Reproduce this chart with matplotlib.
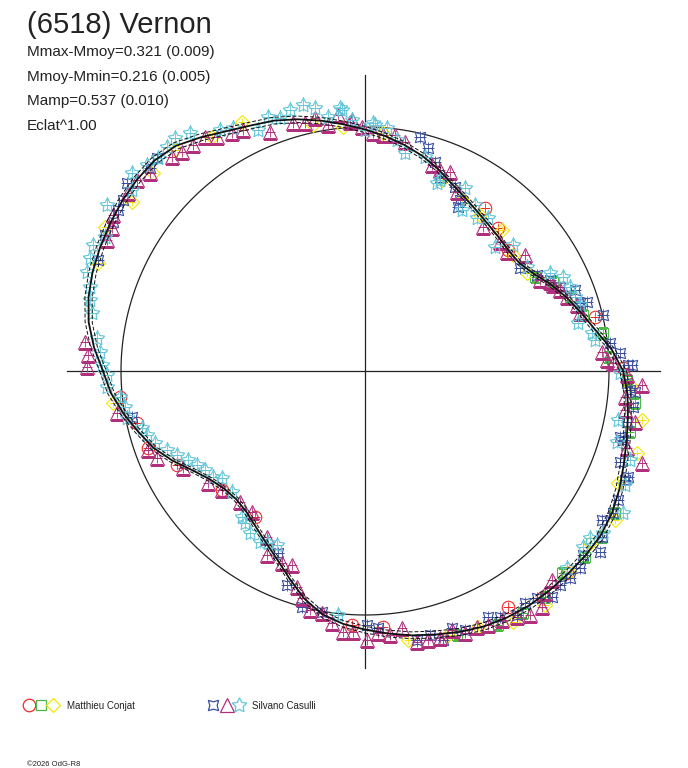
import numpy as np
import matplotlib.pyplot as plt

# fitted lightcurve: polar angle (deg) -> relative flux (1 = mean circle)
curve_angle = [-180, -175, -170, -165, -160, -155, -150, -145, -140, -135, -130, -125,
               -120, -115, -110, -105, -100, -95, -90, -85, -80, -75, -70, -65, -60,
               -55, -50, -45, -40, -35, -30, -25, -20, -15, -10, -5, 0, 5, 10, 15, 20,
               25, 30, 35, 40, 45, 50, 55, 60, 65, 70, 75, 80, 85, 90, 95, 100, 105,
               110, 115, 120, 125, 130, 135, 140, 145, 150, 155, 160, 165, 170, 175, 180]
curve_r = [1.074, 1.045, 1.005, 0.962, 0.922, 0.870, 0.815, 0.775, 0.752, 0.745, 0.755,
           0.780, 0.812, 0.852, 0.905, 0.965, 1.012, 1.040, 1.060, 1.080, 1.100, 1.118,
           1.138, 1.155, 1.166, 1.173, 1.175, 1.176, 1.178, 1.178, 1.168, 1.150, 1.128,
           1.110, 1.094, 1.080, 1.058, 1.015, 0.960, 0.918, 0.880, 0.840, 0.798, 0.772,
           0.768, 0.775, 0.785, 0.800, 0.820, 0.845, 0.880, 0.912, 0.940, 0.966, 0.990,
           1.015, 1.042, 1.068, 1.092, 1.110, 1.135, 1.170, 1.205, 1.220, 1.220, 1.215,
           1.207, 1.198, 1.188, 1.173, 1.150, 1.115, 1.074]

# Matthieu Conjat
conjat_circle_angle = [-173.9, -167.2, -160.5, -153.4, -140.2, -127.0, -92.9, -86.0,
                       -58.8, -51.8, -45.0, 53.6, 47.1, 40.2, 13.2, 0.7]
conjat_circle_r = [1.010, 0.958, 0.944, 0.861, 0.762, 0.749, 1.042, 1.052,
                   1.131, 1.179, 1.171, 0.830, 0.800, 0.768, 0.968, 1.057]

conjat_square_angle = [28.9, 25.3, 19.9, 14.4, 9.1, 3.3, -2.0, -6.8, -13.0, -29.6,
                       -35.0, -40.2, -45.7, -51.5, -56.9, -62.4, -70.8]
conjat_square_r = [0.796, 0.852, 0.893, 0.922, 0.988, 0.998, 1.074, 1.114, 1.114, 1.178,
                   1.186, 1.181, 1.156, 1.184, 1.184, 1.175, 1.146]

conjat_diamond_angle = [116.3, 123.2, 130.7, 137.0, 144.0, 151.0, 158.0, 101.9, 95.2,
                        85.7, 68.0, 60.4, 53.6, 45.8, 38.1, 31.2, -3.0, -10.0, -16.8,
                        -23.9, -30.8, -37.4, -44.4, -52.4, -59.5, -66.2, -72.5, -80.9,
                        -172.8]
conjat_diamond_r = [1.138, 1.146, 1.194, 1.189, 1.180, 1.218, 1.180, 1.030, 1.004,
                    0.978, 0.844, 0.806, 0.794, 0.806, 0.771, 0.776, 1.088, 1.153, 1.164,
                    1.134, 1.193, 1.161, 1.177, 1.210, 1.194, 1.147, 1.134, 1.116,
                    1.041]

# Silvano Casulli
casulli_cross_angle = [136.6, 141.7, 144.8, 146.9, 149.4, 152.4, 157.4, 134.3, -168.8,
                       -110.0, -104.9, -100.1, -115.5, -89.5, -87.1, -79.1, -76.2, -73.8,
                       -71.3, -68.9, -63.4, -61.2, -58.1, -55.4, -52.8, -50.4, -47.7,
                       -45.3, -42.5, -37.6, -35.0, -32.2, -29.8, -27.0, -22.7, -19.6,
                       1.3, -4.1, -11.0, -15.0, -22.0, -40.2, 33.6, 29.2, 26.2, 23.3,
                       21.1, 17.6, 17.3, 13.2, 6.5, 4.0, 1.3, -2.6, -4.4, -7.7, -14.5,
                       76.8, 74.2, 71.5, 68.8, 63.9, 60.9, 60.4]
casulli_cross_r = [1.212, 1.243, 1.214, 1.208, 1.200, 1.203, 1.185, 1.220, 0.973,
                   0.933, 1.001, 1.003, 0.827, 1.041, 1.055, 1.123, 1.114, 1.148,
                   1.112, 1.138, 1.127, 1.150, 1.178, 1.155, 1.167, 1.202, 1.187,
                   1.194, 1.195, 1.216, 1.186, 1.147, 1.171, 1.164, 1.155, 1.110,
                   1.078, 1.089, 1.094, 1.095, 1.162, 1.169, 0.763, 0.807, 0.845, 0.870,
                   0.922, 0.924, 0.953, 1.002, 1.011, 1.048, 1.095, 1.075, 1.110, 1.108,
                   1.080, 0.985, 0.950, 0.903, 0.849, 0.839, 0.802, 0.773]

casulli_triangle_angle = [106.2, 103.6, 101.2, 98.6, 96.0, 93.4, 88.1, 111.7, 116.8,
                          119.2, 122.3, 124.4, 127.3, 129.9, 132.0, 137.4, 140.0, 143.1,
                          148.2, 150.5, 153.1, 174.1, 176.7, 179.2, -170.4, -160.0,
                          -157.3, -152.0, -144.5, -140.2, -133.7, -128.7, -120.6, -118.0,
                          -113.4, -110.6, -107.5, -105.5, -103.0, -100.1, -97.5, -94.8,
                          -92.6, -89.6, -87.2, -84.6, -81.8, -79.1, -76.8, -74.3, -71.4,
                          -69.1, -66.4, -64.2, -61.2, -58.3, -55.9, -53.1, -51.0, -48.2,
                          -18.4, 1.8, -0.9, -2.9, -8.5, -10.7, -16.4, 43.7, 40.0, 35.9,
                          27.5, 25.7, 22.6, 20.1, 17.3, 15.1, 4.6, 2.6, -5.7, 93.0, 90.7,
                          85.6, 82.8, 80.1, 72.0, 69.5, 66.9, 62.8, 50.7, 24.6]
casulli_triangle_r = [1.058, 1.046, 1.057, 1.020, 1.055, 1.022, 0.976, 1.054, 1.107,
                      1.117, 1.135, 1.162, 1.164, 1.170, 1.181, 1.198, 1.219, 1.215,
                      1.215, 1.191, 1.186, 1.154, 1.137, 1.139, 1.031, 0.946,
                      0.924, 0.845, 0.790, 0.762, 0.742, 0.741, 0.790, 0.854,
                      0.857, 0.850, 0.928, 0.966, 1.005, 1.007, 1.042, 1.073,
                      1.071, 1.102, 1.075, 1.087, 1.064, 1.131, 1.132, 1.137, 1.120,
                      1.149, 1.145, 1.157, 1.165, 1.185, 1.207, 1.209, 1.171, 1.149,
                      1.196, 1.017, 1.074, 1.137, 1.077, 1.126, 1.119, 0.765, 0.759, 0.810,
                      0.808, 0.841, 0.865, 0.882, 0.910, 0.913, 0.975, 0.993, 1.071, 1.030, 1.000,
                      0.970, 0.975, 0.953, 0.888, 0.879, 0.887, 0.825, 0.763, 0.847]

casulli_star_angle = [103.1, 100.8, 95.4, 106.0, 108.6, 110.9, 118.5, 121.0, 126.3, 129.2,
                      131.5, 134.2, 136.6, 139.6, 142.2, 147.2, 152.7, 155.1, 157.7,
                      160.4, 163.0, 165.5, 168.0, 173.0, 175.9, 178.7, -179.1, -176.5,
                      88.2, 113.9, 93.0, 98.3, -173.9, -171.5, -168.8, -165.7, -163.6,
                      -161.1, -158.2, -155.9, -153.3, -150.8, -148.3, -145.1, -143.2,
                      -137.7, -130.1, -128.3, -125.4, -121.6, -119.4, -116.8, -96.3,
                      95.0, 90.0, 87.7, 84.8, 82.1, 79.6, 74.3, 69.0, 68.6, 61.3, 58.9,
                      56.5, 53.8, 51.2, 43.6, 40.4, 32.7, 27.9, 25.4, 22.3, 19.4, 17.1,
                      12.7, 9.5, 7.7, -0.4, -11.0, -15.7, -18.6, -23.7, -28.8, -34.2,
                      -36.6, -38.9, -44.3]
casulli_star_r = [1.119, 1.097, 1.083, 1.113, 1.094, 1.114, 1.133, 1.153, 1.211, 1.232,
                  1.225, 1.217, 1.229, 1.253, 1.209, 1.257, 1.199, 1.229, 1.218,
                  1.209, 1.178, 1.164, 1.144, 1.107, 1.089, 1.078, 1.057, 1.059,
                  1.017, 1.081, 1.030, 1.052, 1.010, 0.995, 0.994, 0.943, 0.931,
                  0.910, 0.874, 0.844, 0.812, 0.789, 0.771, 0.759, 0.732,
                  0.737, 0.782, 0.794, 0.814, 0.822, 0.809, 0.799, 1.006,
                  1.074, 0.988, 1.009, 1.000, 0.956, 0.908, 0.911, 0.825, 0.841, 0.855, 0.770,
                  0.816, 0.777, 0.805, 0.736, 0.797, 0.789, 0.858, 0.898, 0.908, 0.913, 0.922,
                  0.895, 0.943, 0.951, 1.045, 1.056, 1.073, 1.146, 1.163, 1.207, 1.180,
                  1.148, 1.148, 1.156]

RED, GREEN, YELLOW = '#ee2a2a', '#4cb848', '#f2e600'
BLUE, MAGENTA, CYAN = '#3a4fa0', '#b0307c', '#62c6d8'

series = [
    (conjat_circle_angle, conjat_circle_r, 'o', 9, RED),
    (conjat_square_angle, conjat_square_r, 's', 7.5, GREEN),
    (conjat_diamond_angle, conjat_diamond_r, 'D', 7, YELLOW),
    (casulli_cross_angle, casulli_cross_r, (4, 1, 45), 10.5, BLUE),
    (casulli_triangle_angle, casulli_triangle_r, '^', 9.5, MAGENTA),
    (casulli_star_angle, casulli_star_r, (5, 1, 0), 11, CYAN),
]

W, H = 688, 768
cx, cy, R = 365, 371, 244
rmax = 1.32

fig = plt.figure(figsize=(W / 100, H / 100), dpi=100)
ax = fig.add_axes([(cx - rmax * R) / W, (H - cy - rmax * R) / H,
                   2 * rmax * R / W, 2 * rmax * R / H], projection='polar')
ax.set_ylim(0, rmax)
ax.set_axis_off()

# axes cross and mean circle
for a, length in [(0, 1.209), (90, 1.213), (180, 1.221), (270, 1.217)]:
    ax.plot(np.radians([a, a]), [0, length], color='#222222', lw=0.9)
th = np.linspace(0, 2 * np.pi, 500)
ax.plot(th, np.ones_like(th), color='#222222', lw=0.9)

for ang, r, mk, ms, col in series:
    t = np.radians(ang)
    ax.plot(t, r, ls='none', marker=mk, ms=ms, mfc='none', mec=col, mew=0.8)
    ax.plot(t, r, ls='none', marker='+', ms=ms * 0.8, color=col, mew=0.6)

ct = np.radians(curve_angle)
cr = np.array(curve_r)
ax.plot(ct, cr, color='#111111', lw=1.3)
ax.plot(ct, cr * 1.013, color='#111111', lw=0.7, dashes=(4, 2))
ax.plot(ct, cr * 0.987, color='#111111', lw=0.7, dashes=(4, 2))

# texts
font = 'Liberation Sans'
fig.text(27 / W, 1 - 33 / H, '(6518) Vernon', fontsize=21, family=font,
         color='#222222', va='baseline')
info = ['Mmax-Mmoy=0.321 (0.009)', 'Mmoy-Mmin=0.216 (0.005)',
        'Mamp=0.537 (0.010)', 'Eclat^1.00']
for i, line in enumerate(info):
    fig.text(27 / W, 1 - (56 + 24.5 * i) / H, line, fontsize=11, family=font,
             color='#222222', va='baseline')

# legend
lg = fig.add_axes([0, 0, 1, 1])
lg.set_xlim(0, W)
lg.set_ylim(H, 0)
lg.set_axis_off()
for x, (ang, r, mk, ms, col) in zip([29, 41, 53, 213, 227, 239], series):
    lg.plot([x], [705], ls='none', marker=mk, ms=ms, mfc='none', mec=col, mew=0.9)
fig.text(67 / W, 1 - 709 / H, 'Matthieu Conjat', fontsize=7, family=font,
         color='#222222', va='baseline')
fig.text(252 / W, 1 - 709 / H, 'Silvano Casulli', fontsize=7, family=font,
         color='#222222', va='baseline')
fig.text(27 / W, 1 - 766 / H, '\u00a92026 OdG-R8', fontsize=5.5, family=font,
         color='#222222', va='baseline')

fig.savefig('out.png', dpi=100)
